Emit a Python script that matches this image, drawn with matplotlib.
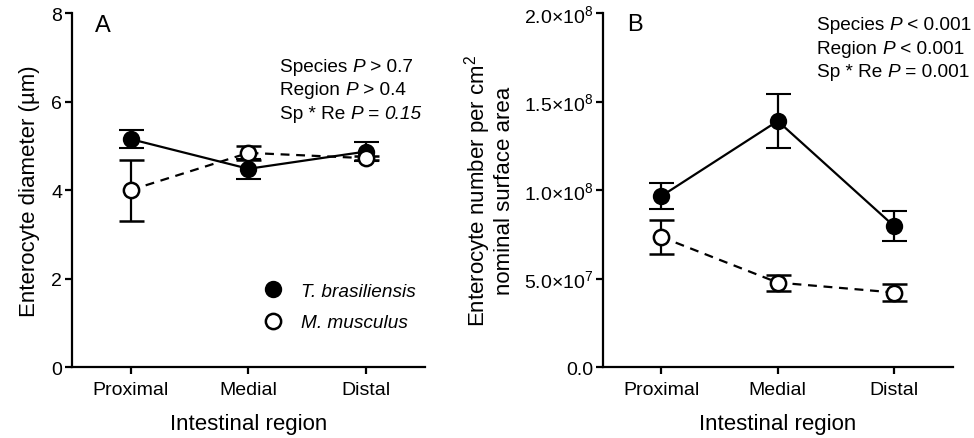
import matplotlib
matplotlib.use("Agg")
import matplotlib.pyplot as plt
from matplotlib.lines import Line2D
from matplotlib.ticker import FixedLocator, FixedFormatter
from matplotlib.offsetbox import TextArea, HPacker, VPacker, AnchoredOffsetbox

plt.rcParams['font.family'] = ['Liberation Sans', 'DejaVu Sans']
plt.rcParams['mathtext.fontset'] = 'custom'
plt.rcParams['mathtext.rm'] = 'Liberation Sans'
plt.rcParams['mathtext.it'] = 'Liberation Sans:italic'
plt.rcParams['mathtext.bf'] = 'Liberation Sans:bold'

regions = ["Proximal", "Medial", "Distal"]

# Panel A: enterocyte diameter (um)
a_tb = [5.15, 4.48, 4.87]
a_tb_err = [0.21, 0.22, 0.21]
a_mm = [4.00, 4.84, 4.72]
a_mm_err = [0.69, 0.16, 0.05]

# Panel B: enterocyte number per cm2
b_tb = [0.965e8, 1.39e8, 0.795e8]
b_tb_err = [0.073e8, 0.153e8, 0.085e8]
b_mm = [0.735e8, 0.477e8, 0.421e8]
b_mm_err = [0.098e8, 0.045e8, 0.048e8]

b_ticks = [0, 0.5e8, 1.0e8, 1.5e8, 2.0e8]
b_ticklabels = ["0.0", "5.0×10$^{7}$", "1.0×10$^{8}$", "1.5×10$^{8}$", "2.0×10$^{8}$"]

# Statistics text: (piece, italic?)
a_stats = [[("Species ", False), ("P", True), (" > 0.7", False)],
           [("Region ", False), ("P", True), (" > 0.4", False)],
           [("Sp * Re ", False), ("P", True), (" = ", False), ("0.15", True)]]
b_stats = [[("Species ", False), ("P", True), (" < 0.001", False)],
           [("Region ", False), ("P", True), (" < 0.001", False)],
           [("Sp * Re ", False), ("P", True), (" = 0.001", False)]]

fig = plt.figure(figsize=(9.74, 4.39), dpi=100)
axA = fig.add_axes([0.0739, 0.1617, 0.3624, 0.8063])
axB = fig.add_axes([0.619, 0.1617, 0.359, 0.8063])

x = list(range(len(regions)))
ms = 11
lw = 1.6
TICK_FS = 14
LAB_FS = 16
STAT_FS = 13.7

def draw(ax, tb, tbe, mm, mme):
    ax.errorbar(x, tb, yerr=tbe, color='black', lw=lw, ls='-', marker='o', ms=ms,
                mfc='black', mec='black', mew=1.5, capsize=9, capthick=lw, elinewidth=lw, zorder=3)
    ax.errorbar(x, mm, yerr=mme, color='black', lw=lw, ls=(0, (4, 3)), marker='o', ms=ms,
                mfc='white', mec='black', mew=1.8, capsize=9, capthick=lw, elinewidth=lw, zorder=4)
    ax.set_xlim(-0.5, 2.5)
    ax.set_xticks(x)
    ax.set_xticklabels(regions, fontsize=TICK_FS)
    for s in ['top', 'right']:
        ax.spines[s].set_visible(False)
    for s in ['left', 'bottom']:
        ax.spines[s].set_linewidth(1.6)
    ax.tick_params(axis='both', direction='out', length=5, width=1.6, labelsize=TICK_FS)
    ax.tick_params(axis='y', pad=2)
    ax.tick_params(axis='x', pad=5)
    ax.set_xlabel("Intestinal region", fontsize=LAB_FS, labelpad=11)

def stats_box(ax, lines, xy):
    rows = []
    for line in lines:
        parts = [TextArea(t, textprops=dict(fontsize=STAT_FS,
                                            fontstyle='italic' if it else 'normal'))
                 for t, it in line]
        rows.append(HPacker(children=parts, sep=0, pad=0, align='baseline'))
    box = VPacker(children=rows, sep=4.7, pad=0, align='left')
    ab = AnchoredOffsetbox(loc='upper left', child=box, bbox_to_anchor=xy,
                           bbox_transform=ax.transAxes, frameon=False, pad=0, borderpad=0)
    ax.add_artist(ab)

draw(axA, a_tb, a_tb_err, a_mm, a_mm_err)
axA.set_ylim(0, 8)
axA.set_yticks([0, 2, 4, 6, 8])
axA.set_ylabel("Enterocyte diameter (µm)", fontsize=LAB_FS, labelpad=8)
axA.text(0.065, 0.965, "A", transform=axA.transAxes, fontsize=17, va='center', ha='left')
stats_box(axA, a_stats, (0.589, 0.874))
handles = [Line2D([], [], ls='none', marker='o', ms=ms, mfc='black', mec='black', mew=1.5),
           Line2D([], [], ls='none', marker='o', ms=ms, mfc='white', mec='black', mew=1.8)]
leg = axA.legend(handles, ["T. brasiliensis", "M. musculus"], loc='center left',
                 bbox_to_anchor=(0.49, 0.17), frameon=False, fontsize=STAT_FS,
                 handletextpad=0.85, labelspacing=0.75, handlelength=1.2)
for t in leg.get_texts():
    t.set_fontstyle('italic')

draw(axB, b_tb, b_tb_err, b_mm, b_mm_err)
axB.set_ylim(0, 2.0e8)
axB.yaxis.set_major_locator(FixedLocator(b_ticks))
axB.yaxis.set_major_formatter(FixedFormatter(b_ticklabels))
axB.set_ylabel("Enterocyte number per cm$^{2}$\nnominal surface area", fontsize=LAB_FS,
               labelpad=6, linespacing=1.08)
axB.text(0.069, 0.97, "B", transform=axB.transAxes, fontsize=17, va='center', ha='left')
stats_box(axB, b_stats, (0.612, 0.991))

fig.savefig("out.png", dpi=100)
